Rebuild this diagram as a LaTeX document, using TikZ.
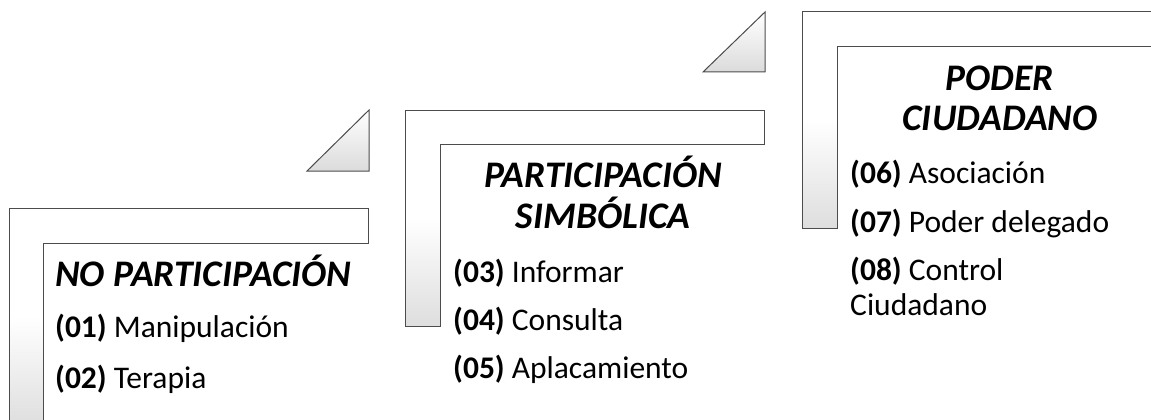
\documentclass[tikz,border=0pt]{standalone}
\usepackage{fontspec}
\setmainfont{Carlito}
\begin{document}
\begin{tikzpicture}[x=1pt,y=-1pt,
  lshape/.style={draw=black!70, line width=1pt, top color=white, bottom color=black!13, middle color=white},
  tri/.style={draw=black!70, line width=1pt, top color=white, bottom color=black!14},
  head/.style={inner sep=0pt, anchor=base, font=\fontsize{37.5}{44}\selectfont\bfseries\itshape},
  item/.style={inner sep=0pt, anchor=base west, font=\fontsize{31.5}{38}\selectfont}]
\useasboundingbox (0,0) rectangle (1151,420);
\clip (0,0) rectangle (1151,420);
% shapes
\path[lshape] (9,208) -- (368,208) -- (368,243) -- (43,243) -- (43,426) -- (9,426) -- cycle;
\path[tri] (307,171) -- (369,110) -- (369,171) -- cycle;
\path[lshape] (405,110) -- (764,110) -- (764,144) -- (440,144) -- (440,326) -- (405,326) -- cycle;
\path[tri] (703,72) -- (765,12) -- (765,72) -- cycle;
\path[lshape] (802,12) -- (1163,12) -- (1163,47) -- (837,47) -- (837,228) -- (802,228) -- cycle;
% group 1
\node[head, anchor=base west] (h1) at (55,286) {NO PARTICIPACIÓN};
\node[item] (i1) at (55,337) {\textbf{(01)} Manipulación};
\node[item] (i2) at (55,388) {\textbf{(02)} Terapia};
% group 2
\node[head] (h2a) at (603,187) {PARTICIPACIÓN};
\node[head] (h2b) at (603,228) {SIMBÓLICA};
\node[item] (i3) at (453,282) {\textbf{(03)} Informar};
\node[item] (i4) at (453,330) {\textbf{(04)} Consulta};
\node[item] (i5) at (453,378) {\textbf{(05)} Aplacamiento};
% group 3
\node[head] (h3a) at (1000,90) {PODER};
\node[head] (h3b) at (1000,130) {CIUDADANO};
\node[item] (i6) at (850,183) {\textbf{(06)} Asociación};
\node[item] (i7) at (850,232) {\textbf{(07)} Poder delegado};
\node[item] (i8) at (850,280) {\textbf{(08)} Control};
\node[item] (i8b) at (850,315) {Ciudadano};
\end{tikzpicture}
\end{document}
